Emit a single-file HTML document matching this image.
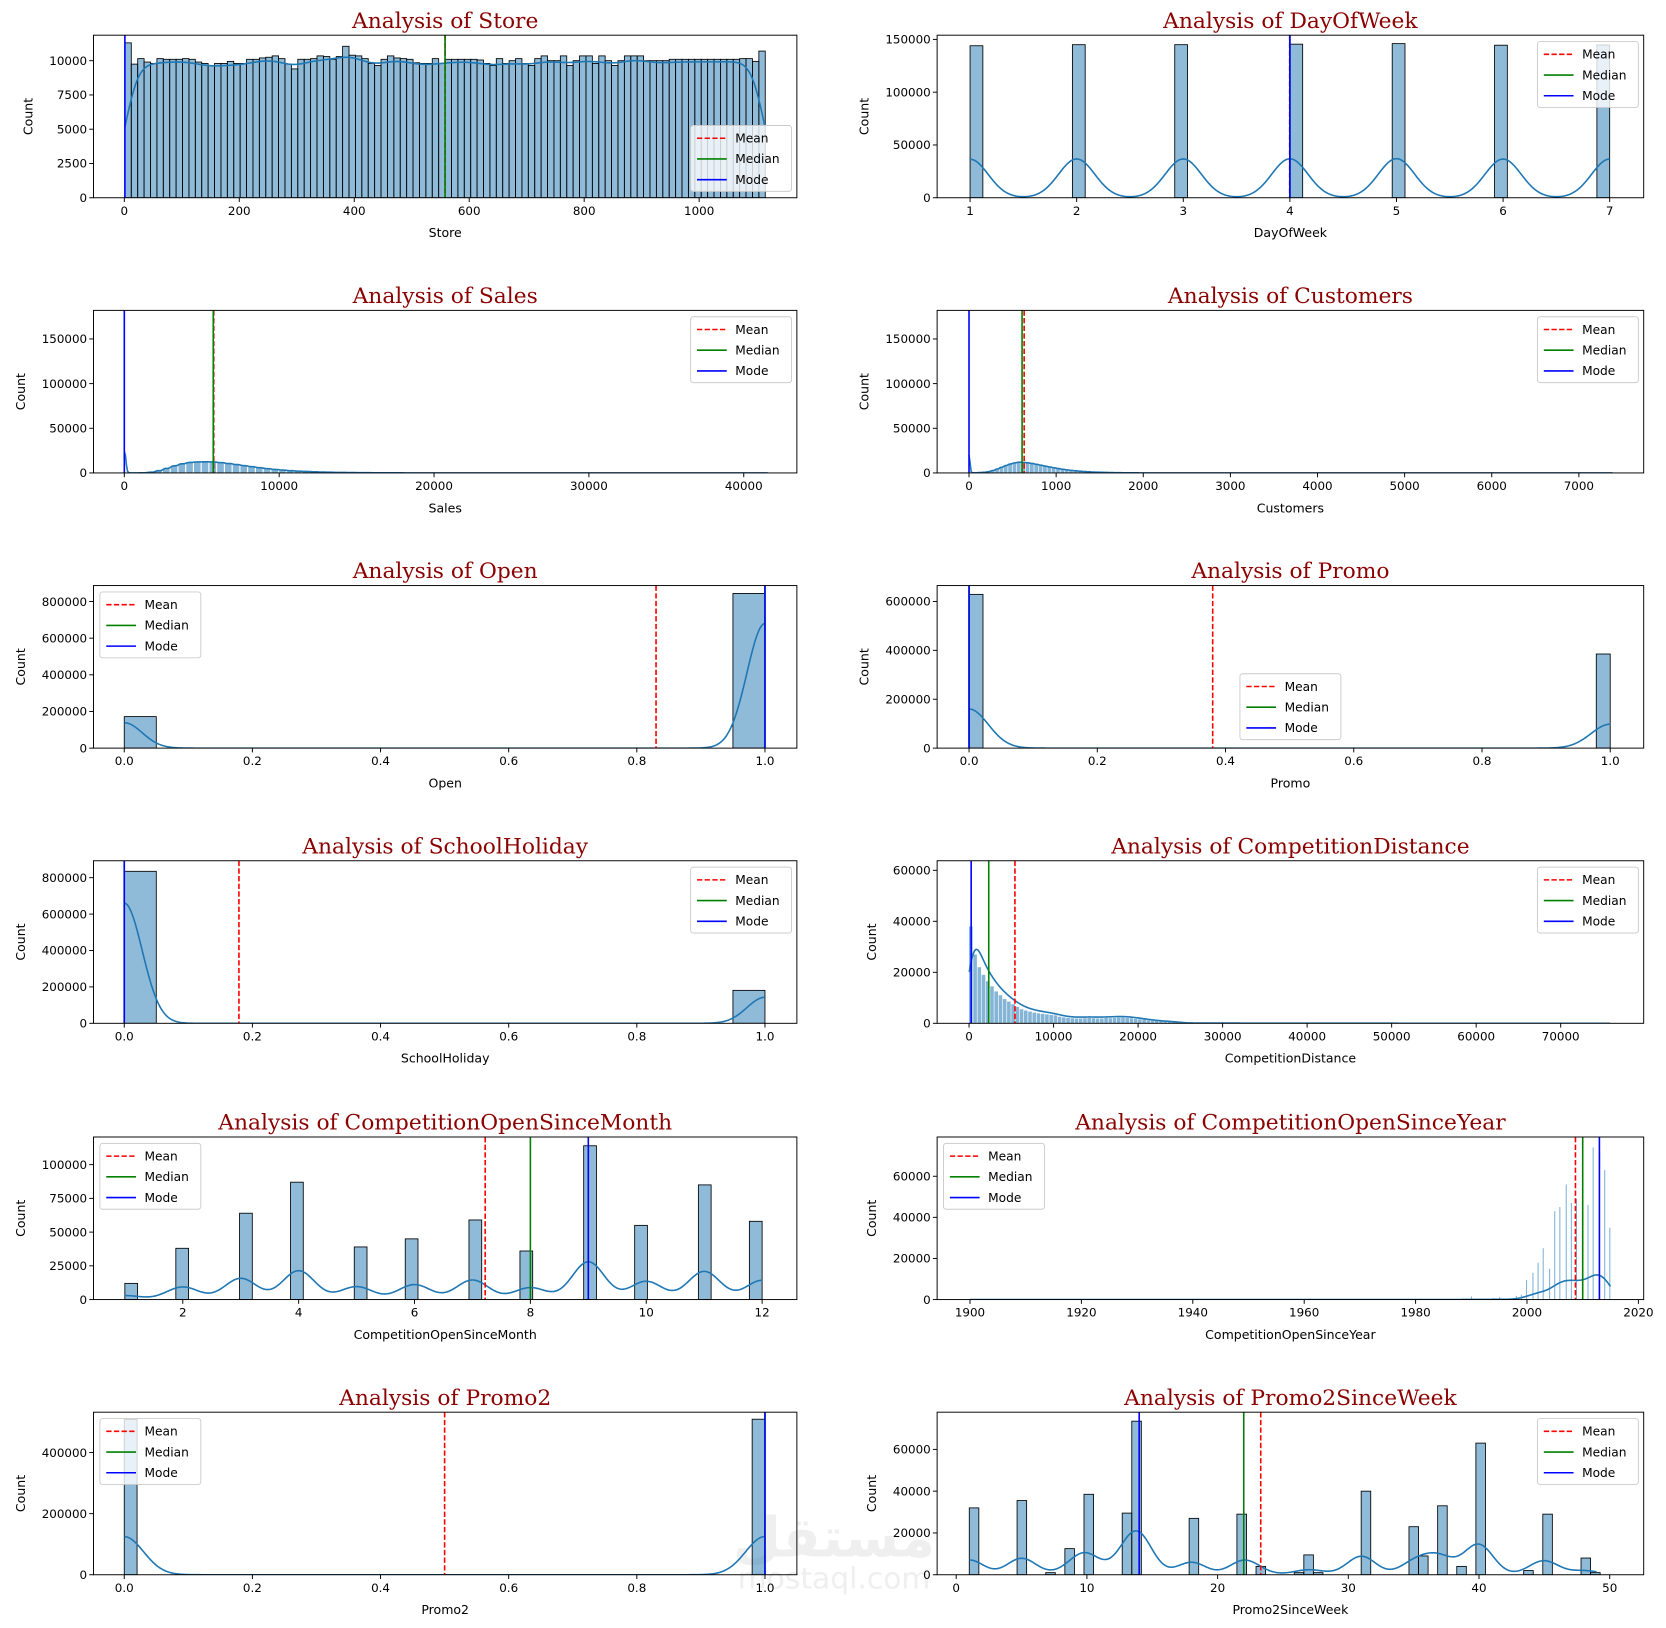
<!DOCTYPE html>
<html><head><meta charset="utf-8"><style>
html,body{margin:0;padding:0;background:#fff;}
svg{display:block;}
</style></head><body>
<svg id="fig" xmlns="http://www.w3.org/2000/svg" width="1666" height="1628" viewBox="0 0 1568 1532">
<rect x="0" y="0" width="1568" height="1532" fill="#fff"/>
<g opacity="0.13" fill="#888">
<text x="785" y="1465" font-family="DejaVu Sans, sans-serif" font-size="52" font-weight="bold" text-anchor="middle">مستقل</text>
<text x="785" y="1495" font-family="DejaVu Sans, sans-serif" font-size="28" text-anchor="middle">mostaql.com</text>
</g>
</svg>
<script>
// ---------- data ----------
const storeCounts=[11300,9750,10150,9900,9800,10150,10100,10100,10100,10150,10100,9900,9800,9650,9800,9800,9950,9800,9800,10100,10100,10200,10250,10350,10150,9750,9400,10100,10100,10150,10350,10300,10100,10300,11050,10400,10350,10150,9800,9650,10100,10350,10200,10150,10100,9850,9800,9800,10150,9800,10100,10100,10100,10100,10100,10050,9800,9650,10150,9800,10000,10150,9800,9650,10150,10350,10000,10000,10350,9650,10000,10350,10350,9800,10350,10000,9650,10000,10350,10350,10350,10000,10000,10000,10000,10100,10100,10100,10100,10100,10100,10100,10100,10100,10100,10100,10150,10150,9950,10700];
const dowValues=[1,2,3,4,5,6,7];
const dowCounts=[144000,145000,145000,145500,146000,144500,144700];
const salesZero=[172000];
const salesCounts=[0,50,200,800,2500,5000,7800,10000,11500,12000,12200,12000,11300,10300,9200,8000,6800,5700,4700,3800,3100,2500,2000,1600,1300,1000,800,600,500,400,300,250,200,150,120,100,80,60,50,40,30,25,20,15,10,8,6,5,4,3];
const custZero=[172000];
const custCounts=[100,200,400,800,1500,2800,4500,6500,8500,10200,11500,12200,12000,11500,10800,9800,8800,7800,6800,5900,5000,4200,3500,2900,2400,2000,1600,1300,1050,850,700,550,450,350,280,220,170,130,100,80,60,45,35,28,22,18,14,11,9,7];
const openValues=[0,1];
const openCounts=[172000,844000];
const promoValues=[0,1];
const promoCounts=[629000,385000];
const schoolValues=[0,1];
const schoolCounts=[835000,181000];
const cdNearCounts=[38000,27000,22000,19000,16500,14500,12500,11000,9500,8500,7500,6500,5500,5000,4600,4200,3900,3700,3500,3300,3100,2600,2300,2100,2000,1900,1900,2000,2100,2000,1900,1900,2100,2000,2100,2200,2200,2100,2000,1800,1600,1500,1200,1000,900,800,700,600,500,450];
const cdFarCounts=[400,400,350,350,300,300,300,250,250,250,250,200,200,200,200,200,150,150,150,150,150,150,120,120,120,100,100,100,100,100,100,100,80,80,80,80,80,60,60,60,60,60,60,50,50,50,50,50,40,40,40];
const monthValues=[1,2,3,4,5,6,7,8,9,10,11,12];
const monthCounts=[12000,38000,64000,87000,39000,45000,59000,36000,114000,55000,85000,58000];
const yearValues=[1900,1961,1990,1994,1995,1998,1999,2000,2001,2002,2003,2004,2005,2006,2007,2008,2009,2010,2011,2012,2013,2014,2015];
const yearCounts=[300,500,1500,800,1200,1800,2400,9500,13000,18000,25000,15000,43000,45000,56000,47000,49000,48000,46000,74000,72000,63000,35000];
const promo2Values=[0,1];
const promo2Counts=[508000,509000];
const weekValues=[1,5,7,9,10,13,14,18,22,23,26,27,28,31,35,36,37,39,40,44,45,48,49];
const weekCounts=[32000,35500,1000,12500,38500,29500,73500,27000,29000,4000,1000,9500,1000,40000,23000,9000,33000,4000,63000,2000,29000,8000,1000];
const statMeans=[558,3.998,5774,633,0.83,0.38,0.179,5430,7.22,2008.7,0.5,23.3];
const statMedians=[558,4,5744,609,1,0,0,2330,8,2010,1,22];
const statModes=[1,4,0,0,1,0,0,250,9,2013,1,14];
const plotTitles=["Store","DayOfWeek","Sales","Customers","Open","Promo","SchoolHoliday","CompetitionDistance","CompetitionOpenSinceMonth","CompetitionOpenSinceYear","Promo2","Promo2SinceWeek"];
const kdePeaks=[10250,37000,24000,20000,680000,160000,660000,29000,28000,12000,125000,21000];

// ---------- helpers ----------
const NS="http://www.w3.org/2000/svg";
const svg=document.getElementById('fig');
function mk(tag,attrs,parent){const e=document.createElementNS(NS,tag);for(const k in attrs)e.setAttribute(k,attrs[k]);(parent||svg).appendChild(e);return e;}
function erf(x){const s=x<0?-1:1;x=Math.abs(x);const t=1/(1+0.3275911*x);const y=1-(((((1.061405429*t-1.453152027)*t)+1.421413741)*t-0.284496736)*t+0.254829592)*t*Math.exp(-x*x);return s*y;}
function Phi(z){return 0.5*(1+erf(z/Math.SQRT2));}
function seq(a,b,s){const r=[];for(let v=a;v<=b+s*1e-6;v+=s)r.push(+v.toFixed(6));return r;}
function binnedBars(counts,start,w){return counts.map((c,i)=>({x0:start+i*w,x1:start+(i+1)*w,c}));}
function discreteBars(values,counts,lo,hi,n){const w=(hi-lo)/n;return values.map((v,i)=>{let k=Math.min(n-1,Math.floor((v-lo)/w+1e-9));return {x0:lo+k*w,x1:lo+(k+1)*w,c:counts[i],v:v};});}
function spacedBars(counts,start,step,w){return counts.map((c,i)=>({x0:start+i*step,x1:start+i*step+w,c}));}

const L1=88,R1=750,L2=882,R2=1547,H=153;
const tops=[33,292,551,810,1070,1329];
const plots=[
 {L:L1,R:R1,row:0,xmin:-53.6,xmax:1170,ymax:11860,xt:seq(0,1000,200),xf:v=>String(v),yt:seq(0,10000,2500),bars:binnedBars(storeCounts,1,1114/storeCounts.length),bw:20,leg:'lr'},
 {L:L2,R:R2,row:0,xmin:0.691,xmax:7.319,ymax:154000,xt:seq(1,7,1),xf:v=>String(v),yt:seq(0,150000,50000),bars:discreteBars(dowValues,dowCounts,1,7,50),bw:0.17,leg:'ur'},
 {L:L1,R:R1,row:1,xmin:-1990,xmax:43430,ymax:182000,xt:seq(0,40000,10000),xf:v=>String(v),yt:seq(0,150000,50000),bars:spacedBars(salesZero,0,1,30).concat(binnedBars(salesCounts,0,500)),bw:86,leg:'ur',klo:0,khi:41551,noEdge:true},
 {L:L2,R:R2,row:1,xmin:-366,xmax:7744,ymax:182000,xt:seq(0,7000,1000),xf:v=>String(v),yt:seq(0,150000,50000),bars:spacedBars(custZero,0,1,3).concat(binnedBars(custCounts,0,50)),bw:10,leg:'ur',klo:0,khi:7388,noEdge:true},
 {L:L1,R:R1,row:2,xmin:-0.048,xmax:1.0498,ymax:887000,xt:seq(0,1,0.2),xf:v=>v.toFixed(1),yt:seq(0,800000,200000),bars:discreteBars(openValues,openCounts,0,1,20),bw:0.028,leg:'ul'},
 {L:L2,R:R2,row:2,xmin:-0.0498,xmax:1.0522,ymax:665000,xt:seq(0,1,0.2),xf:v=>v.toFixed(1),yt:seq(0,600000,200000),bars:discreteBars(promoValues,promoCounts,0,1,46),bw:0.03,leg:'custom',lx:1167,ly:634},
 {L:L1,R:R1,row:3,xmin:-0.048,xmax:1.0498,ymax:893000,xt:seq(0,1,0.2),xf:v=>v.toFixed(1),yt:seq(0,800000,200000),bars:discreteBars(schoolValues,schoolCounts,0,1,20),bw:0.028,leg:'ur'},
 {L:L2,R:R2,row:3,xmin:-3777,xmax:79820,ymax:63750,xt:seq(0,70000,10000),xf:v=>String(v),yt:seq(0,60000,20000),bars:binnedBars(cdNearCounts,0,500).concat(spacedBars(cdFarCounts,25000,1000,250)),bw:700,leg:'ur',klo:20,khi:75860,noEdge:true},
 {L:L1,R:R1,row:4,xmin:0.459,xmax:12.6,ymax:120500,xt:seq(2,12,2),xf:v=>String(v),yt:seq(0,100000,25000),bars:discreteBars(monthValues,monthCounts,1,12,50),bw:0.28,leg:'ul'},
 {L:L2,R:R2,row:4,xmin:1894.1,xmax:2020.95,ymax:79100,xt:seq(1900,2020,20),xf:v=>String(v),yt:seq(0,60000,20000),bars:discreteBars(yearValues,yearCounts,1900,2015,500),bw:1.3,leg:'ul',noEdge:true},
 {L:L1,R:R1,row:5,xmin:-0.048,xmax:1.0498,ymax:532000,xt:seq(0,1,0.2),xf:v=>v.toFixed(1),yt:seq(0,400000,200000),bars:discreteBars(promo2Values,promo2Counts,0,1,50),bw:0.03,leg:'ul'},
 {L:L2,R:R2,row:5,xmin:-1.46,xmax:52.6,ymax:77800,xt:seq(0,50,10),xf:v=>String(v),yt:seq(0,60000,20000),bars:discreteBars(weekValues,weekCounts,1,50,67),bw:1.1,leg:'ur'}
];

const SANS="DejaVu Sans, Liberation Sans, sans-serif";
plots.forEach((p,pi)=>{
  const T=tops[p.row],B=T+H,name=plotTitles[pi];
  const key=name.toLowerCase();
  const sx=v=>p.L+(v-p.xmin)/(p.xmax-p.xmin)*(p.R-p.L);
  const sy=v=>B-v/p.ymax*H;
  const g=mk('g',{});
  
  
  const cid='clip'+pi;
  const cp=mk('clipPath',{id:cid},g);mk('rect',{x:p.L,y:T,width:p.R-p.L,height:H},cp);
  const t=mk('text',{x:(p.L+p.R)/2,y:T-7,'text-anchor':'middle','font-family':'DejaVu Serif, Liberation Serif, serif','font-size':20.5,fill:'#8b0000'},g);
  t.textContent='Analysis of '+name;
  
  
  const bg=mk('g',{'clip-path':'url(#'+cid+')'},g);
  
  
  p.bars.forEach(b=>{ if(b.c<=0)return;
    const x0=sx(b.x0),x1=sx(b.x1),w=x1-x0;
    const thin=!!p.noEdge;
    const r=mk('rect',{x:x0,y:sy(b.c),width:Math.max(0.4,thin?w*0.85:w),height:B-sy(b.c),fill:'#1f77b4','fill-opacity':thin?0.55:0.5,stroke:thin?'none':'#000','stroke-width':0.8},bg);
    
    
  });
  const disc=p.bars.every(b=>b.v!==undefined);
  let lo=p.klo,hi=p.khi;
  if(lo===undefined){lo=disc?Math.min(...p.bars.map(b=>b.v)):Math.min(...p.bars.map(b=>b.x0));}
  if(hi===undefined){hi=disc?Math.max(...p.bars.map(b=>b.v)):Math.max(...p.bars.map(b=>b.x1));}
  const N=600,pts=[];let mx=0;
  for(let i=0;i<=N;i++){const x=lo+(hi-lo)*i/N;let s=0;
    p.bars.forEach(b=>{
      if(disc){const z=(x-b.v)/p.bw;s+=b.c*Math.exp(-0.5*z*z);}
      else s+=b.c*(Phi((x-b.x0)/p.bw)-Phi((x-b.x1)/p.bw));});
    pts.push([x,s]);if(s>mx)mx=s;}
  const sc=kdePeaks[pi]/mx;
  const d=pts.map((q,i)=>(i?'L':'M')+sx(q[0]).toFixed(2)+','+sy(q[1]*sc).toFixed(2)).join('');
  const kp=mk('path',{d:d,fill:'none',stroke:'#1f77b4','stroke-width':1.5,'clip-path':'url(#'+cid+')'},g);
  
  
  const lines=[[statMeans[pi],'#ff0000','5,2.2','mean-line'],[statMedians[pi],'#008000','','median-line'],[statModes[pi],'#0000ff','','mode-line']];
  lines.forEach(l=>{const x=sx(l[0]);
    const ln=mk('line',{x1:x,x2:x,y1:T,y2:B,stroke:l[1],'stroke-width':1.5,'stroke-dasharray':l[2]},g);
    
    
  });
  const fr=mk('rect',{x:p.L,y:T,width:p.R-p.L,height:H,fill:'none',stroke:'#000','stroke-width':0.9},g);
  
  
  const xg=mk('g',{},g);
  
  
  p.xt.forEach(v=>{const x=sx(v);
    mk('line',{x1:x,x2:x,y1:B,y2:B+4,stroke:'#000','stroke-width':0.9},xg);
    const tx=mk('text',{x:x,y:B+16,'text-anchor':'middle','font-family':SANS,'font-size':11.2,fill:'#000'},xg);
    tx.textContent=p.xf(v);
    
    
  });
  const xl=mk('text',{x:(p.L+p.R)/2,y:B+37,'text-anchor':'middle','font-family':SANS,'font-size':11.8,fill:'#000'},g);
  xl.textContent=name;
  
  
  const yg=mk('g',{},g);
  
  
  let maxw=0;
  p.yt.forEach(v=>{const y=sy(v);
    mk('line',{x1:p.L-4,x2:p.L,y1:y,y2:y,stroke:'#000','stroke-width':0.9},yg);
    const tx=mk('text',{x:p.L-6,y:y+4,'text-anchor':'end','font-family':SANS,'font-size':11.2,fill:'#000'},yg);
    tx.textContent=String(v);maxw=Math.max(maxw,String(v).length);
    
    
  });
  const yx=p.L-maxw*7.1-22;
  const yl=mk('text',{x:yx,y:(T+B)/2,'text-anchor':'middle','font-family':SANS,'font-size':11.8,fill:'#000',transform:'rotate(-90 '+yx+' '+(T+B)/2+')'},g);
  yl.textContent='Count';
  
  
  const LW=95,LH=62;let lx,ly;
  if(p.leg==='ur'){lx=p.R-5-LW;ly=T+6;}
  else if(p.leg==='ul'){lx=p.L+6;ly=T+6;}
  else if(p.leg==='lr'){lx=p.R-5-LW;ly=B-6-LH;}
  else {lx=p.lx;ly=p.ly;}
  const lg=mk('g',{},g);
  
  
  mk('rect',{x:lx,y:ly,width:LW,height:LH,rx:2.5,fill:'#fff','fill-opacity':0.8,stroke:'#cccccc','stroke-width':0.9},lg);
  [['Mean','#ff0000','5,2.2'],['Median','#008000',''],['Mode','#0000ff','']].forEach((e,i)=>{
    const yy=ly+12+i*19.5;
    const eg=mk('g',{},lg);
    
    
    mk('line',{x1:lx+6,x2:lx+34,y1:yy,y2:yy,stroke:e[1],'stroke-width':1.5,'stroke-dasharray':e[2]},eg);
    const tx=mk('text',{x:lx+42,y:yy+4,'font-family':SANS,'font-size':11.5,fill:'#000'},eg);
    tx.textContent=e[0];
  });
});
</script>
</body></html>
